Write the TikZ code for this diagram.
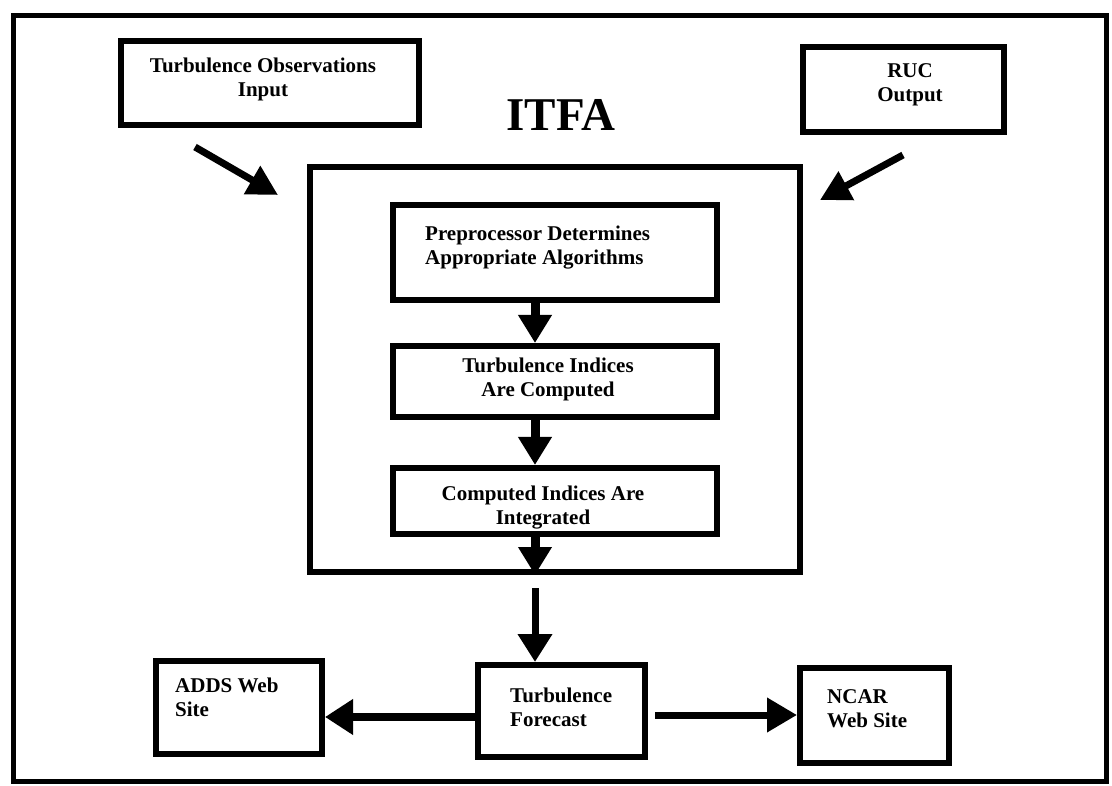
\documentclass[tikz,border=0pt]{standalone}
\usepackage{fontspec}
\setmainfont{Liberation Serif}
\usetikzlibrary{arrows.meta,calc}
\begin{document}
\begin{tikzpicture}[x=1pt,y=-1pt,
  boxshape/.style={draw, line width=6pt, rectangle, inner sep=0pt},
  lbl/.style={inner sep=0pt, font=\bfseries\fontsize{21}{24}\selectfont},
  flow/.style={line width=9pt, -{Triangle[length=28pt,width=32pt]}},
  diag/.style={line width=7pt, -{Triangle[length=30pt,width=31pt]}},
  side/.style={line width=7pt, -{Triangle[length=30pt,width=33pt]}}
]
\useasboundingbox (0,0) rectangle (1112,786);
% outer frame
\node[draw, line width=5pt, inner sep=0pt, minimum width=1093pt, minimum height=765pt] (frame) at (559.5,398.5) {};
% top input boxes
\node[boxshape, minimum width=298pt, minimum height=84pt] (obs) at (270,83) {};
\node[lbl, anchor=north, align=center] (obstext) at (263,58) {Turbulence Observations\\Input};
\node[boxshape, minimum width=201pt, minimum height=85pt] (ruc) at (903.5,89.5) {};
\node[lbl, anchor=north, align=center] (ructext) at (910,63) {RUC\\Output};
% title
\node[inner sep=0pt, anchor=base, font=\bfseries\fontsize{47}{50}\selectfont] (title) at (561,131) {ITFA};
% ITFA container
\node[boxshape, minimum width=490pt, minimum height=405pt] (itfa) at (555,369.5) {};
% inner steps
\node[boxshape, minimum width=324pt, minimum height=95pt] (pre) at (555,252.5) {};
\node[lbl, anchor=north west, align=left] (pretext) at (425,226) {Preprocessor Determines\\Appropriate Algorithms};
\node[boxshape, minimum width=324pt, minimum height=71pt] (ind) at (555,381.5) {};
\node[lbl, anchor=north, align=center] (indtext) at (548,358) {Turbulence Indices\\Are Computed};
\node[boxshape, minimum width=324pt, minimum height=66pt] (comp) at (555,501) {};
\node[lbl, anchor=north, align=center] (comptext) at (543,486) {Computed Indices Are\\Integrated};
% bottom row
\node[boxshape, minimum width=167pt, minimum height=92pt] (fc) at (561.5,711) {};
\node[lbl, anchor=north west, align=left] (fctext) at (510,688) {Turbulence\\Forecast};
\node[boxshape, minimum width=166pt, minimum height=93pt] (adds) at (239,707.5) {};
\node[lbl, anchor=north west, align=left] (addstext) at (175,678) {ADDS Web\\Site};
\node[boxshape, minimum width=149pt, minimum height=95pt] (ncar) at (874.5,715.5) {};
\node[lbl, anchor=north west, align=left] (ncartext) at (827,689) {NCAR\\Web Site};
% helper coordinates
\coordinate (ax) at (535,0);
\coordinate (obsstart) at (195,147);
\coordinate (obstip) at (278,195);
\coordinate (rucstart) at (903,155);
\coordinate (ructip) at (820,200);
\coordinate (ly) at (0,717);
\coordinate (ry) at (0,715);
% connectors
\draw[diag] (obsstart) -- (obstip);
\draw[diag] (rucstart) -- (ructip);
\draw[flow] (ax |- pre.south) -- (ax |- ind.north);
\draw[flow] (ax |- ind.south) -- (ax |- comp.north);
\draw[flow] (ax |- comp.south) -- (ax |- itfa.south);
\draw[line width=7pt, -{Triangle[length=28pt,width=33pt]}, shorten <=13pt] (ax |- itfa.south) -- (ax |- fc.north);
\draw[line width=8pt, -{Triangle[length=28pt,width=34pt]}] (fc.west |- ly) -- (adds.east |- ly);
\draw[side, shorten <=7pt] (fc.east |- ry) -- (ncar.west |- ry);
\end{tikzpicture}
\end{document}
